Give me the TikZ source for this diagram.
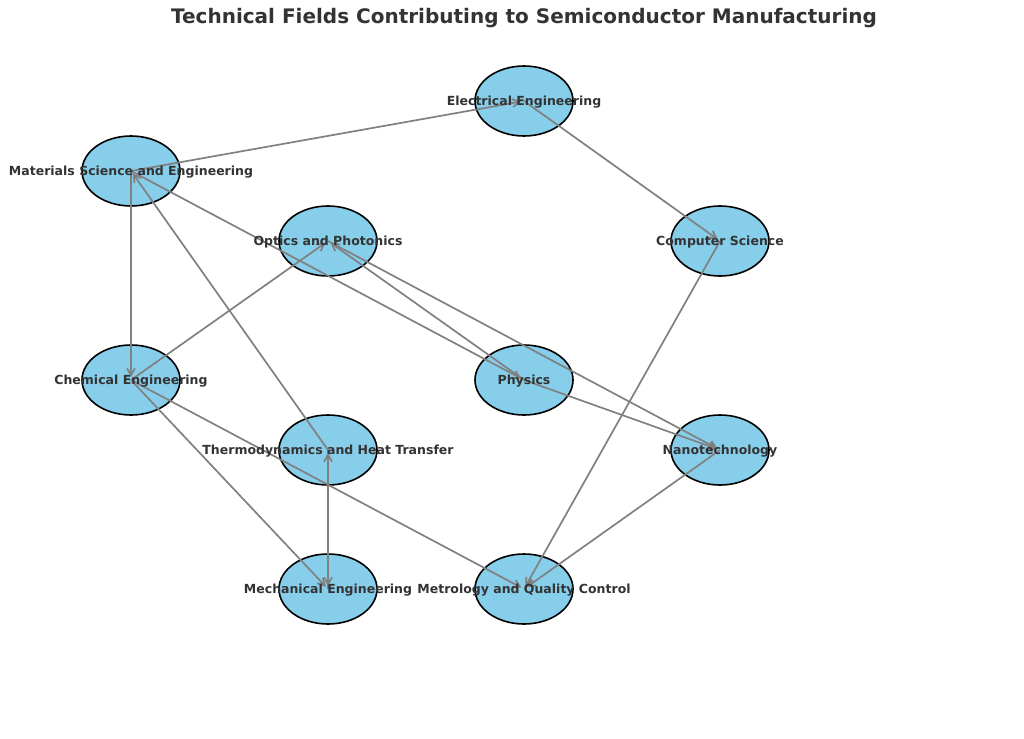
\documentclass[tikz,border=0pt]{standalone}
\usepackage{fontspec}
\setmainfont{DejaVu Sans}
\usetikzlibrary{arrows.meta,shapes.geometric}
\definecolor{nodeblue}{RGB}{135,206,235}
\definecolor{txt}{RGB}{51,51,51}
\begin{document}
\begin{tikzpicture}[x=1pt,y=-1pt,
  nd/.style={ellipse,draw=black,line width=1.6pt,fill=nodeblue,minimum width=98pt,minimum height=70pt,inner sep=0pt},
  lbl/.style={font=\bfseries\fontsize{12.5}{14}\selectfont,text=txt,inner sep=0pt,yshift=-1.5pt},
  edge/.style={draw=gray,line width=1.7pt,-{Straight Barb[length=7pt,width=8pt]},shorten >=3pt}]
\useasboundingbox (0,0) rectangle (1024,738);
\node[font=\bfseries\fontsize{20}{24}\selectfont,text=txt] (title) at (524,18.5) {Technical Fields Contributing to Semiconductor Manufacturing};
% ellipses
\node[nd] (ee) at (524,101) {};
\node[nd] (ms) at (131,171) {};
\node[nd] (op) at (328,241) {};
\node[nd] (cs) at (720,241) {};
\node[nd] (ce) at (131,380) {};
\node[nd] (ph) at (524,380) {};
\node[nd] (th) at (328,450) {};
\node[nd] (nt) at (720,450) {};
\node[nd] (me) at (328,589) {};
\node[nd] (mq) at (524,589) {};
% edges
\draw[edge] (ms.center) -- (ee.center);
\draw[edge] (ee.center) -- (cs.center);
\draw[edge] (ms.center) -- (ce.center);
\draw[edge] (th.center) -- (ms.center);
\draw[edge] (ms.center) -- (ph.center);
\draw[edge] (ce.center) -- (op.center);
\draw[edge] (ph.center) -- (op.center);
\draw[edge] (op.center) -- (nt.center);
\draw[edge] (ph.center) -- (nt.center);
\draw[edge] (ce.center) -- (me.center);
\draw[edge] (ce.center) -- (mq.center);
\draw[edge] (th.center) -- (me.center);
\draw[edge] (me.center) -- (th.center);
\draw[edge] (cs.center) -- (mq.center);
\draw[edge] (nt.center) -- (mq.center);
% labels
\node[lbl] (ee-l) at (ee.center) {Electrical Engineering};
\node[lbl] (ms-l) at (ms.center) {Materials Science and Engineering};
\node[lbl] (op-l) at (op.center) {Optics and Photonics};
\node[lbl] (cs-l) at (cs.center) {Computer Science};
\node[lbl] (ce-l) at (ce.center) {Chemical Engineering};
\node[lbl] (ph-l) at (ph.center) {Physics};
\node[lbl] (th-l) at (th.center) {Thermodynamics and Heat Transfer};
\node[lbl] (nt-l) at (nt.center) {Nanotechnology};
\node[lbl] (me-l) at (me.center) {Mechanical Engineering};
\node[lbl] (mq-l) at (mq.center) {Metrology and Quality Control};
\end{tikzpicture}
\end{document}
